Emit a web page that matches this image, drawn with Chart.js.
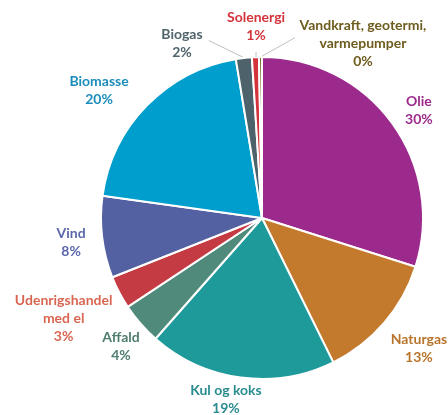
<!DOCTYPE html>
<html><head><meta charset="utf-8">
<script src="https://cdn.jsdelivr.net/npm/chart.js@4"></script>
<style>html,body{margin:0;padding:0;background:#fff}#wrap{width:448px;height:415px;position:relative}</style>
</head><body><div id="wrap"><canvas id="c" width="448" height="415"></canvas></div>
<script>
const categories = ["Olie","Naturgas","Kul og koks","Affald","Udenrigshandel med el","Vind","Biomasse","Biogas","Solenergi","Vandkraft, geotermi, varmepumper"];
const labelLines = [["Olie"],["Naturgas"],["Kul og koks"],["Affald"],["Udenrigshandel","med el"],["Vind"],["Biomasse"],["Biogas"],["Solenergi"],["Vandkraft, geotermi,","varmepumper"]];
const shares = [29.9, 12.8, 18.8, 4.2, 3.3, 8.2, 20.2, 1.6, 0.7, 0.3];
const sliceColors = ["#9C2A8D","#C47A2D","#1F9A9B","#4F8A7B","#C43B43","#5360A1","#009ECC","#4D626A","#D3343B","#7A6A2A"];
const labelColors = ["#9C2A8D","#B9742C","#2A8C8F","#4F7D70","#D96652","#5B67AA","#1C8DBA","#50646C","#D3343B","#6E5C1E"];

// label layout (offsets in units of the outer radius, relative to pie centre)
const labelPos = [[0.975,-0.665],[0.975,0.81],[-0.224,1.13],[-0.876,0.80],[-1.232,0.625],[-1.186,0.15],[-1.012,-0.795],[-0.497,-1.081],[-0.037,-1.19],[0.627,-1.087]];
const leaders = {7:[[-0.33,-1.102],[-0.12,-1.0]],8:[[-0.037,-1.03],[-0.037,-1.0]],9:[[0.205,-1.12],[0.0,-1.005]]};

const labelPlugin = {
  id:'outLabels',
  afterDatasetsDraw(chart){
    const ctx = chart.ctx;
    const meta = chart.getDatasetMeta(0);
    const arc0 = meta.data[0];
    const cx = arc0.x, cy = arc0.y, R = arc0.outerRadius;
    ctx.save();
    ctx.strokeStyle = '#BFBFBF'; ctx.lineWidth = 1;
    Object.keys(leaders).forEach(k=>{
      const [a,b] = leaders[k];
      ctx.beginPath(); ctx.moveTo(cx+a[0]*R, cy+a[1]*R); ctx.lineTo(cx+b[0]*R, cy+b[1]*R); ctx.stroke();
    });
    ctx.font = 'bold 14px Lato, "Open Sans", sans-serif';
    ctx.textAlign = 'center'; ctx.textBaseline = 'middle';
    const lh = 18;
    shares.forEach((v,i)=>{
      const lines = labelLines[i].concat([Math.round(v)+'%']);
      const x = cx + labelPos[i][0]*R, y = cy + labelPos[i][1]*R;
      const top = y - (lines.length-1)*lh/2;
      ctx.fillStyle = labelColors[i];
      lines.forEach((t,j)=>ctx.fillText(t, x, top + j*lh));
    });
    ctx.restore();
  }
};

new Chart(document.getElementById('c'), {
  type:'pie',
  data:{labels:categories, datasets:[{data:shares, backgroundColor:sliceColors, borderColor:'#ffffff', borderWidth:2}]},
  options:{
    responsive:false, animation:false,
    layout:{padding:{left:100,right:24,top:56,bottom:35}},
    plugins:{legend:{display:false}, tooltip:{enabled:false}}
  },
  plugins:[labelPlugin]
});
</script></body></html>
